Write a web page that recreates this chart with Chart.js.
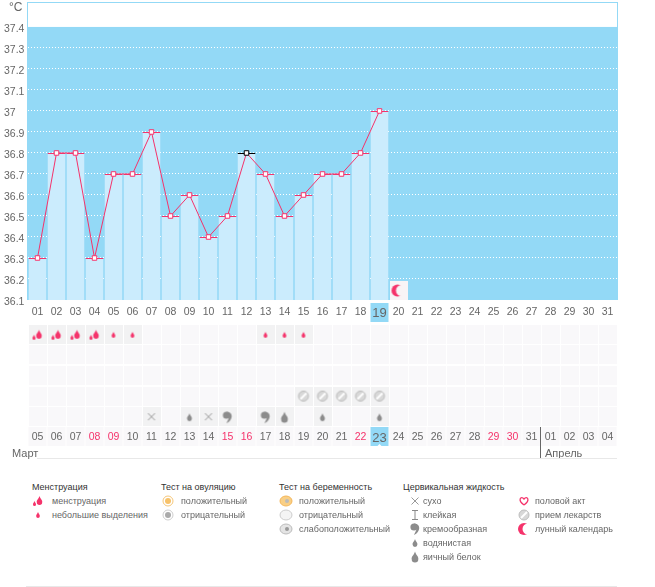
<!DOCTYPE html>
<html>
<head>
<meta charset="utf-8">
<script src="https://cdn.jsdelivr.net/npm/chart.js@4"></script>
<style>
html, body { margin: 0; padding: 0; background: #fff; overflow: hidden; }
body { width: 655px; height: 587px; position: relative; font-family: "Liberation Sans", sans-serif; }
canvas.chart { position: absolute; left: 0; }
#temp-wrap { position: absolute; left: 0; top: 0; width: 655px; height: 325px; }
#cal-wrap { position: absolute; left: 0; top: 320px; width: 655px; height: 140px; }
.t { position: absolute; white-space: nowrap; font-size: 9px; line-height: 12px; color: #666; }
.h { color: #333; }
.m { font-size: 11px; line-height: 14px; color: #666; }
.ico { position: absolute; }
.line { position: absolute; background: #e8e8e8; }
</style>
</head>
<body>
<div id="temp-wrap"><canvas id="temp-chart" class="chart"></canvas></div>
<div id="cal-wrap"><canvas id="cal-chart" class="chart"></canvas></div>
<div class="t m" style="left:9px;top:0px;font-size:12px;">°C</div>
<div class="t m" style="left:12px;top:446px;">Март</div>
<div class="t m" style="left:545px;top:446px;">Апрель</div>
<div class="line" style="left:37px;top:458px;width:580px;height:1px;"></div>
<div class="line" style="left:540px;top:427px;width:1px;height:31px;background:#666;"></div>
<div class="line" style="left:26px;top:586px;width:591px;height:1px;"></div>
<div id="legend"></div>

<script>
const categories = ['01','02','03','04','05','06','07','08','09','10','11','12','13','14','15','16',
    '17','18','19','20','21','22','23','24','25','26','27','28','29','30','31'];
const temperatures = [36.3, 36.8, 36.8, 36.3, 36.7, 36.7, 36.9, 36.5, 36.6, 36.4, 36.5, 36.8, 36.7, 36.5, 36.6, 36.7, 36.7, 36.8, 37.0];
const yTicks = [37.4, 37.3, 37.2, 37.1, 37, 36.9, 36.8, 36.7, 36.6, 36.5, 36.4, 36.3, 36.2, 36.1];
const dateLabels = ['05','06','07','08','09','10','11','12','13','14','15','16','17','18','19','20','21',
    '22','23','24','25','26','27','28','29','30','31','01','02','03','04'];
const weekendIdx = [3, 4, 10, 11, 17, 24, 25];
const todayIdx = 18;
const coverIdx = 11; // black marker
const moonDays = ['20'];
const rowNames = ['bleeding', 'ovulation', 'pregnancy', 'pills', 'fluid'];
const heavyDays = ['01','02','03','04'];
const lightDays = ['05','06','13','14','15'];
const pillDays = ['15','16','17','18','19'];
const dryDays = ['07','10'];
const wateryDays = ['09','16','19'];
const creamyDays = ['11','13'];
const eggDays = ['14'];

const PINK = '#f5336b';
const GREY = '#8c8c8c';
const SKY = '#93d9f6';
const ACTIVE = '#f2f2f3';
const EMPTY = '#f9f8fa';

function icon(w, h, draw) {
    const c = document.createElement('canvas');
    c.width = w;
    c.height = h;
    draw(c.getContext('2d'));
    return c;
}

function flame(g, x, y, s, color) {
    g.fillStyle = color;
    g.beginPath();
    g.moveTo(x, y - s);
    g.bezierCurveTo(x + s * 0.2, y - s * 0.3, x + s * 0.7, y - s * 0.1, x + s * 0.6, y + s * 0.4);
    g.arc(x, y + s * 0.4, s * 0.6, 0, Math.PI);
    g.bezierCurveTo(x - s * 0.7, y - s * 0.1, x - s * 0.2, y - s * 0.3, x, y - s);
    g.fill();
}

function comma(g, x, y, color) {
    g.fillStyle = color;
    g.beginPath();
    g.arc(x - 1, y - 2, 3.6, 0, Math.PI * 2);
    g.fill();
    g.beginPath();
    g.moveTo(x - 1, y - 5.5);
    g.bezierCurveTo(x + 6, y - 6, x + 6, y + 3, x - 1, y + 6);
    g.bezierCurveTo(x + 1, y + 2, x + 2, y, x + 1, y - 1);
    g.fill();
}

function pill(g, x, y) {
    g.fillStyle = '#d8d8d8';
    g.strokeStyle = '#bdbdbd';
    g.beginPath();
    g.arc(x, y, 5, 0, Math.PI * 2);
    g.fill();
    g.stroke();
    g.strokeStyle = '#fff';
    g.lineWidth = 2;
    g.beginPath();
    g.moveTo(x - 3, y + 3);
    g.lineTo(x + 3, y - 3);
    g.stroke();
    g.lineWidth = 1;
}

function moon(g, x, y, bg) {
    g.fillStyle = PINK;
    g.beginPath();
    g.arc(x, y, 6, 0, Math.PI * 2);
    g.fill();
    g.fillStyle = bg;
    g.beginPath();
    g.arc(x + 4, y, 5.5, 0, Math.PI * 2);
    g.fill();
}

function cross(g, x, y) {
    g.strokeStyle = '#999';
    g.beginPath();
    g.moveTo(x - 3.5, y - 3.5);
    g.lineTo(x + 3.5, y + 3.5);
    g.moveTo(x + 3.5, y - 3.5);
    g.lineTo(x - 3.5, y + 3.5);
    g.stroke();
}

function target(g, x, y, ring, core) {
    g.fillStyle = '#fff';
    g.strokeStyle = ring;
    g.beginPath();
    g.arc(x, y, 5, 0, Math.PI * 2);
    g.fill();
    g.stroke();
    g.fillStyle = core;
    g.beginPath();
    g.arc(x, y, 3, 0, Math.PI * 2);
    g.fill();
}

function badge(g, x, y, fill, stroke, core) {
    g.fillStyle = fill;
    g.strokeStyle = stroke;
    g.beginPath();
    g.ellipse(x, y, 6, 5, 0, 0, Math.PI * 2);
    g.fill();
    g.stroke();
    if (core) {
        g.fillStyle = core;
        g.beginPath();
        g.arc(x + 1, y, 2, 0, Math.PI * 2);
        g.fill();
    }
}

function heart(g, x, y) {
    g.strokeStyle = PINK;
    g.lineWidth = 1.3;
    g.beginPath();
    g.moveTo(x, y + 4);
    g.bezierCurveTo(x - 7, y - 1, x - 3, y - 6, x, y - 2);
    g.bezierCurveTo(x + 3, y - 6, x + 7, y - 1, x, y + 4);
    g.stroke();
}

function cellIcon(bg, draw) {
    return icon(18, 19, g => {
        g.fillStyle = bg;
        g.fillRect(0, 0, 18, 19);
        if (draw) draw(g);
    });
}

const heavyDraw = (g, x, y) => { flame(g, x + 1.5, y - 0.5, 4.5, PINK); flame(g, x - 3.5, y + 2.5, 2.5, PINK); };
const lightDraw = (g, x, y) => flame(g, x, y, 3, PINK);
const wateryDraw = (g, x, y) => flame(g, x, y, 4, GREY);
const eggDraw = (g, x, y) => flame(g, x, y, 5.5, GREY);

const cellEmpty = cellIcon(EMPTY);
const cellHeavy = cellIcon(ACTIVE, g => heavyDraw(g, 9, 10));
const cellLight = cellIcon(ACTIVE, g => lightDraw(g, 9, 10));
const cellPill = cellIcon(ACTIVE, g => pill(g, 9, 9.5));
const cellDry = cellIcon(ACTIVE, g => cross(g, 9, 9.5));
const cellWatery = cellIcon(ACTIVE, g => wateryDraw(g, 9, 10));
const cellCreamy = cellIcon(ACTIVE, g => comma(g, 9, 10, GREY));
const cellEgg = cellIcon(ACTIVE, g => eggDraw(g, 9, 10));
const cellMoon = cellIcon('#f7f4f6', g => moon(g, 8, 9.5, '#f7f4f6'));

// temperature chart
const tempPlugin = {
    id: 'tempBackground',
    beforeDraw(chart) {
        const g = chart.ctx, a = chart.chartArea, y = chart.scales.y, x = chart.scales.x;
        g.save();
        const top = y.getPixelForValue(yTicks[0]);
        g.fillStyle = SKY;
        g.fillRect(a.left, top, a.right - a.left, a.bottom - top);
        g.strokeStyle = SKY;
        g.strokeRect(a.left - 0.5, a.top - 0.5, a.right - a.left + 1, a.bottom - a.top);
        // today in the axis row
        const cx = x.getPixelForValue(todayIdx);
        g.fillRect(cx - 9, a.bottom + 3, 18, 19);
        g.restore();
    },
    afterDraw(chart) {
        const g = chart.ctx, y = chart.scales.y;
        g.save();
        g.font = '10.5px "Liberation Sans"';
        g.fillStyle = '#666';
        g.textBaseline = 'middle';
        yTicks.forEach(v => g.fillText(String(v), 4, y.getPixelForValue(v) + 2.5));
        g.restore();
    }
};

new Chart(document.getElementById('temp-chart'), {
    data: {
        labels: categories,
        datasets: [
            {
                type: 'line',
                data: temperatures,
                borderColor: PINK,
                borderWidth: 1,
                tension: 0,
                pointStyle: 'rect',
                pointRadius: 3.2,
                pointBorderWidth: 1,
                pointBackgroundColor: '#fff',
                pointBorderColor: c => c.dataIndex === coverIdx ? '#000' : PINK,
                clip: false,
                order: 1
            },
            {
                type: 'bar',
                data: temperatures,
                backgroundColor: '#cbecfd',
                borderColor: c => c.dataIndex === coverIdx ? '#000' : PINK,
                borderWidth: { top: 1 },
                borderSkipped: false,
                barPercentage: 18 / 19,
                categoryPercentage: 1,
                order: 2
            },
            {
                type: 'line',
                data: moonDays.map(d => ({ x: d, y: 36.145 })),
                showLine: false,
                pointStyle: cellMoon,
                pointRadius: 9,
                order: 0
            }
        ]
    },
    options: {
        responsive: true,
        maintainAspectRatio: false,
        animation: false,
        events: [],
        layout: { autoPadding: false, padding: { top: 3, right: 38, left: 0, bottom: 0 } },
        plugins: { legend: { display: false }, tooltip: { enabled: false } },
        scales: {
            x: {
                type: 'category',
                offset: true,
                grid: { display: false, drawTicks: false },
                border: { display: false },
                afterFit(s) { s.height = 25; },
                ticks: {
                    autoSkip: false,
                    maxRotation: 0,
                    padding: 6,
                    color: '#666',
                    font: c => ({ family: 'Liberation Sans', size: c.index === todayIdx ? 13 : 10.5 })
                }
            },
            y: {
                min: 36.1,
                max: 37.514,
                afterFit(s) { s.width = 28; },
                afterBuildTicks(s) { s.ticks = yTicks.map(v => ({ value: v })); },
                grid: {
                    color: c => c.tick && c.tick.value === yTicks[0] ? 'rgba(0,0,0,0)' : '#fff',
                    lineWidth: 1,
                    drawTicks: false
                },
                border: { dash: [1, 2], display: false },
                ticks: { display: false }
            }
        }
    },
    plugins: [tempPlugin]
});

// calendar rows under the chart
function rowPoints(days, row) {
    return days.map(d => ({ x: d, y: row }));
}

function markSet(days, row, style) {
    return {
        data: rowPoints(days, row),
        showLine: false,
        pointStyle: style,
        pointRadius: 9,
        clip: false,
        order: 1
    };
}

const emptyCells = [];
rowNames.forEach(r => categories.forEach(d => emptyCells.push({ x: d, y: r })));

const datePlugin = {
    id: 'dateRow',
    beforeDraw(chart) {
        const g = chart.ctx, a = chart.chartArea, x = chart.scales.x;
        g.save();
        categories.forEach((d, i) => {
            const cx = x.getPixelForValue(i);
            g.fillStyle = i === todayIdx ? SKY : EMPTY;
            g.fillRect(cx - 9, a.bottom, 18, 19);
            if (i === todayIdx) {
                g.fillStyle = '#fff';
                g.beginPath();
                g.moveTo(cx - 2, a.bottom + 19);
                g.lineTo(cx, a.bottom + 17);
                g.lineTo(cx + 2, a.bottom + 19);
                g.fill();
            }
        });
        g.restore();
    }
};

new Chart(document.getElementById('cal-chart'), {
    type: 'line',
    data: {
        labels: categories,
        datasets: [
            { data: emptyCells, showLine: false, pointStyle: cellEmpty, pointRadius: 9, clip: false, order: 2 },
            markSet(heavyDays, 'bleeding', cellHeavy),
            markSet(lightDays, 'bleeding', cellLight),
            markSet(pillDays, 'pills', cellPill),
            markSet(dryDays, 'fluid', cellDry),
            markSet(wateryDays, 'fluid', cellWatery),
            markSet(creamyDays, 'fluid', cellCreamy),
            markSet(eggDays, 'fluid', cellEgg)
        ]
    },
    options: {
        responsive: true,
        maintainAspectRatio: false,
        animation: false,
        events: [],
        layout: { autoPadding: false, padding: { top: 4, right: 38, left: 28, bottom: 13 } },
        plugins: { legend: { display: false }, tooltip: { enabled: false } },
        scales: {
            x: {
                type: 'category',
                offset: true,
                grid: { display: false, drawTicks: false },
                border: { display: false },
                afterFit(s) { s.height = 20; },
                ticks: {
                    autoSkip: false,
                    maxRotation: 0,
                    padding: 4,
                    callback: (v, i) => dateLabels[i],
                    color: c => weekendIdx.includes(c.index) ? PINK : '#666',
                    font: c => ({ family: 'Liberation Sans', size: c.index === todayIdx ? 13 : 10.5 })
                }
            },
            y: {
                type: 'category',
                labels: rowNames,
                offset: true,
                display: false
            }
        }
    },
    plugins: [datePlugin]
});

// legend
const legendHeads = [
    ['Менструация', 32], ['Тест на овуляцию', 161], ['Тест на беременность', 279], ['Цервикальная жидкость', 403]
];
const legendRows = [
    ['менструация', 52, 501, (g, x, y) => heavyDraw(g, x, y)],
    ['небольшие выделения', 52, 515, (g, x, y) => lightDraw(g, x, y)],
    ['положительный', 181, 501, (g, x, y) => target(g, x, y, '#f5c577', '#f7c26a')],
    ['отрицательный', 181, 515, (g, x, y) => target(g, x, y, '#ccc', '#aaa')],
    ['положительный', 299, 501, (g, x, y) => badge(g, x, y, '#f9cf85', '#f3b65a', '#bbb')],
    ['отрицательный', 299, 515, (g, x, y) => badge(g, x, y, '#f4f4f4', '#ccc')],
    ['слабоположительный', 299, 529, (g, x, y) => badge(g, x, y, '#e4e4e4', '#bbb', '#999')],
    ['сухо', 423, 501, (g, x, y) => cross(g, x, y)],
    ['клейкая', 423, 515, (g, x, y) => {
        g.strokeStyle = '#888';
        g.beginPath();
        g.moveTo(x - 3, y - 4.5); g.lineTo(x + 3, y - 4.5);
        g.moveTo(x, y - 4.5); g.lineTo(x, y + 4.5);
        g.moveTo(x - 3, y + 4.5); g.lineTo(x + 3, y + 4.5);
        g.stroke();
    }],
    ['кремообразная', 423, 529, (g, x, y) => comma(g, x, y, GREY)],
    ['водянистая', 423, 543, (g, x, y) => wateryDraw(g, x, y)],
    ['яичный белок', 423, 557, (g, x, y) => eggDraw(g, x, y)],
    ['половой акт', 535, 501, (g, x, y) => heart(g, x, y)],
    ['прием лекарств', 535, 515, (g, x, y) => pill(g, x, y)],
    ['лунный календарь', 535, 529, (g, x, y) => moon(g, x, y, '#fff')]
];
const legendIconX = { 52: 38, 181: 168, 299: 286, 423: 415, 535: 524 };

const legend = document.getElementById('legend');
legendHeads.forEach(([label, x]) => {
    const d = document.createElement('div');
    d.className = 't h';
    d.textContent = label;
    d.style.left = x + 'px';
    d.style.top = '481px';
    legend.appendChild(d);
});
legendRows.forEach(([label, x, y, draw]) => {
    const d = document.createElement('div');
    d.className = 't';
    d.textContent = label;
    d.style.left = x + 'px';
    d.style.top = (y - 6) + 'px';
    legend.appendChild(d);
    const c = icon(16, 16, g => draw(g, 8, 8));
    c.className = 'ico';
    c.style.left = (legendIconX[x] - 8) + 'px';
    c.style.top = (y - 8) + 'px';
    legend.appendChild(c);
});
</script>
</body>
</html>
